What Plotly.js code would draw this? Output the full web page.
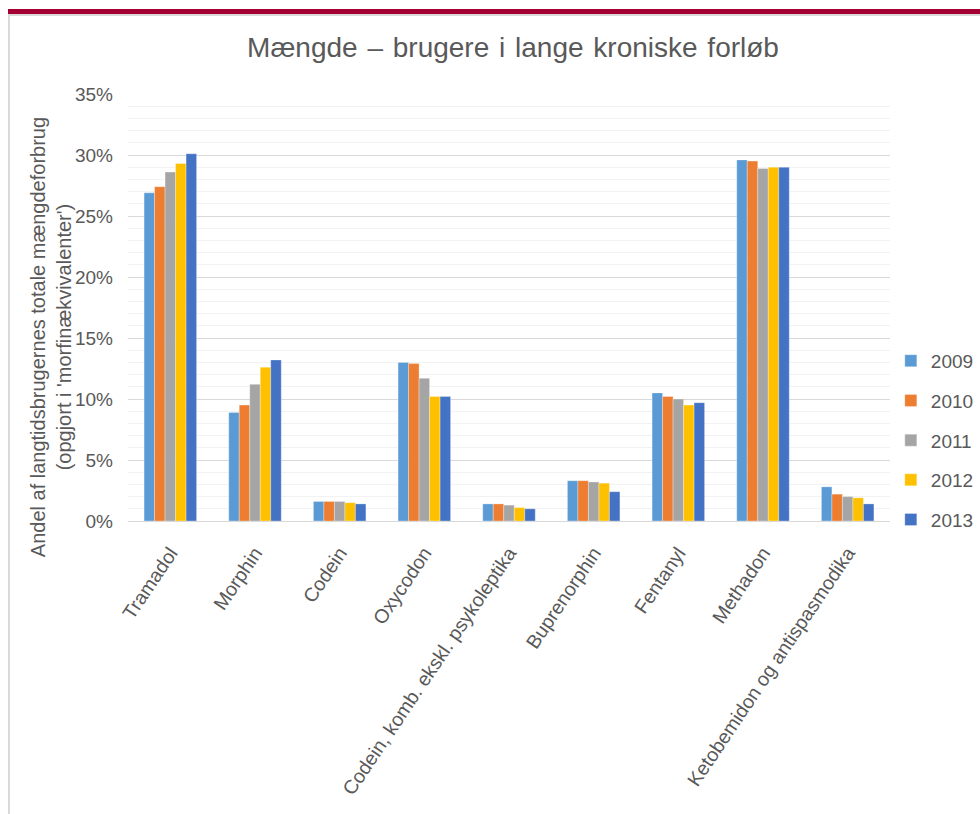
<!DOCTYPE html>
<html>
<head>
<meta charset="utf-8">
<script src="https://cdn.plot.ly/plotly-3.0.1.min.js"></script>
<style>
  html, body { margin: 0; padding: 0; background: #fff; }
  #wrap { position: relative; width: 980px; height: 814px; overflow: hidden; }
  #chart { position: absolute; left: 0; top: 0; width: 980px; height: 814px; }
  #topbar { position: absolute; left: 8px; top: 9px; width: 972px; height: 5px; background: #A50034; }
  #topline { position: absolute; left: 8px; top: 14px; width: 972px; height: 2px; background: #DADADA; }
  #leftline { position: absolute; left: 8px; top: 14px; width: 2px; height: 800px; background: #DADADA; }
  #chart .gtitle { word-spacing: 2px; }
</style>
</head>
<body>
<div id="wrap">
  <div id="chart"></div>
  <div id="topbar"></div>
  <div id="topline"></div>
  <div id="leftline"></div>
</div>
<script>
const categories = ["Tramadol", "Morphin", "Codein", "Oxycodon", "Codein, komb. ekskl. psykoleptika", "Buprenorphin", "Fentanyl", "Methadon", "Ketobemidon og antispasmodika"];
const years = ["2009", "2010", "2011", "2012", "2013"];
const v2009 = [0.269, 0.089, 0.016, 0.130, 0.014, 0.033, 0.105, 0.296, 0.028];
const v2010 = [0.274, 0.095, 0.016, 0.129, 0.014, 0.033, 0.102, 0.295, 0.022];
const v2011 = [0.286, 0.112, 0.016, 0.117, 0.013, 0.032, 0.100, 0.289, 0.020];
const v2012 = [0.293, 0.126, 0.015, 0.102, 0.011, 0.031, 0.095, 0.290, 0.019];
const v2013 = [0.301, 0.132, 0.014, 0.102, 0.010, 0.024, 0.097, 0.290, 0.014];
const seriesValues = [v2009, v2010, v2011, v2012, v2013];
const colors = ["#5B9BD5", "#ED7D31", "#A5A5A5", "#FFC000", "#4472C4"];

const font = "Liberation Sans, Arial, sans-serif";
const txt = "#595959";

const traces = years.map((y, i) => ({
  type: "bar",
  name: y,
  x: categories,
  y: seriesValues[i],
  legendgroup: y,
  marker: { color: colors[i], line: { color: "rgba(255,255,255,0.6)", width: 0.5 } },
  hoverinfo: "x+y+name"
}));

const layout = {
  width: 980,
  height: 814,
  paper_bgcolor: "#ffffff",
  plot_bgcolor: "#ffffff",
  margin: { l: 128, r: 90, t: 94, b: 293, autoexpand: false },
  barmode: "group",
  bargap: 0.38,
  bargroupgap: 0,
  font: { family: font, color: txt },
  title: {
    text: "Mængde – brugere i lange kroniske forløb",
    font: { family: font, size: 28, color: txt },
    xref: "container", x: 0.5235, xanchor: "center",
    yref: "container", y: 0.942, yanchor: "middle"
  },
  xaxis: {
    type: "category",
    tickangle: -56,
    tickfont: { family: font, size: 19.5, color: txt },
    showgrid: false,
    showline: true,
    linecolor: "#D9D9D9",
    linewidth: 1,
    ticks: "",
    ticklen: 0,
    ticklabelstandoff: 12,
    automargin: false
  },
  yaxis: {
    range: [0, 0.35],
    dtick: 0.05,
    tickformat: ".0%",
    tickfont: { family: font, size: 19, color: txt },
    showgrid: true,
    gridcolor: "#D9D9D9",
    gridwidth: 1,
    zeroline: false,
    showline: false,
    ticks: "",
    ticklabelstandoff: 14,
    automargin: false,
    minor: { dtick: 0.01, showgrid: true, gridcolor: "#F2F2F2", gridwidth: 1 }
  },
  legend: {
    xref: "container", yref: "container",
    x: 0.909, xanchor: "left",
    y: 0.580, yanchor: "top",
    font: { family: font, size: 19, color: txt },
    tracegroupgap: 12,
    traceorder: "grouped",
    itemwidth: 30,
    bgcolor: "rgba(0,0,0,0)"
  },
  annotations: [{
    text: "Andel af langtidsbrugernes totale mængdeforbrug<br>(opgjort i 'morfinækvivalenter')",
    xref: "paper", yref: "paper",
    x: -0.1, y: 0.43,
    xanchor: "center", yanchor: "middle",
    textangle: -90,
    showarrow: false,
    font: { family: font, size: 20, color: txt }
  }]
};

Plotly.newPlot("chart", traces, layout, { displayModeBar: false, responsive: false });
</script>
</body>
</html>
